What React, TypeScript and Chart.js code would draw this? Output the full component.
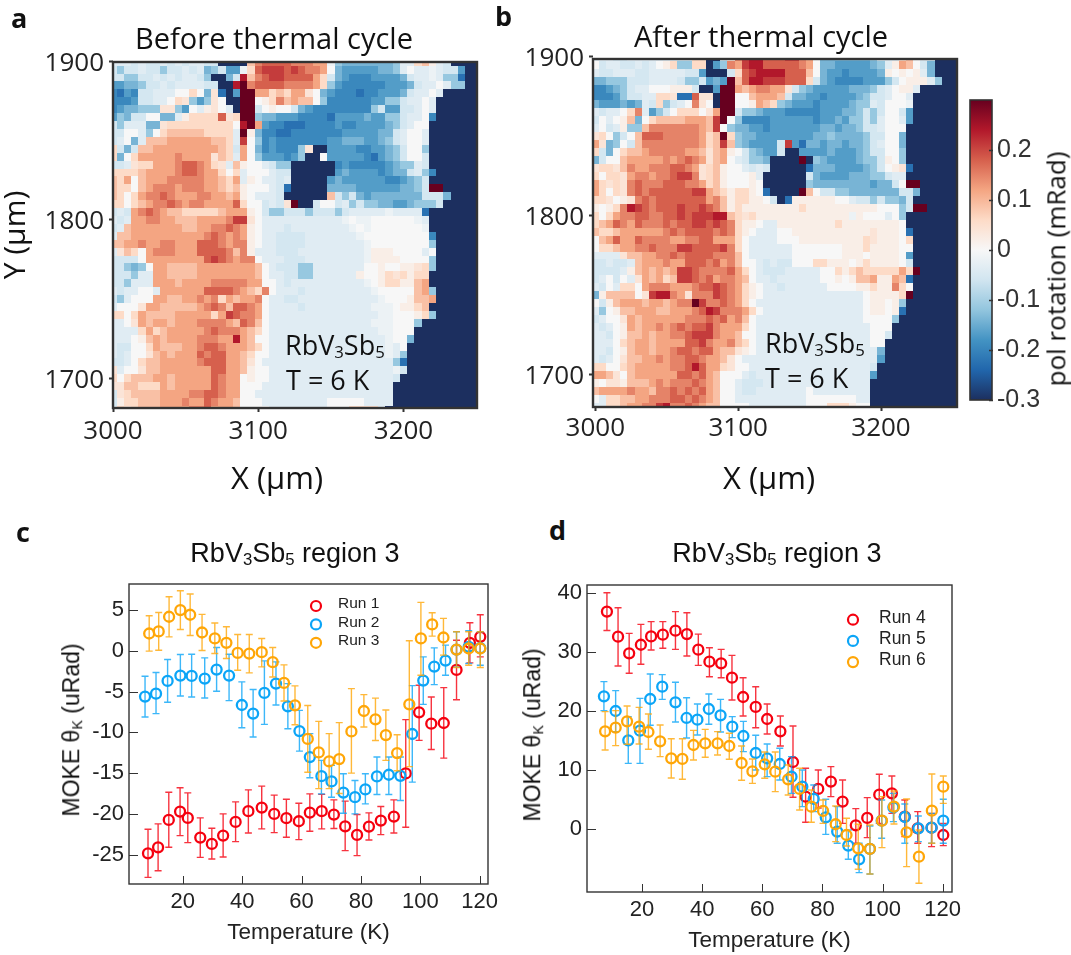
import React, { useEffect, useRef } from "react";
import { Chart, registerables } from "chart.js";

Chart.register(...registerables);

const levelChars = "NABCDEFGHWghijklmnoM";
const levelValues = [-0.3, -0.225, -0.195, -0.168, -0.14, -0.115, -0.055, -0.036, -0.018, 0, 0.02, 0.04, 0.06, 0.09, 0.12, 0.15, 0.18, 0.21, 0.24, 0.3];
const colorStops = [-0.3, -0.24, -0.18, -0.12, -0.06, 0, 0.06, 0.12, 0.18, 0.24, 0.3];
const colorHex = ["#1c2f5f", "#2166ac", "#4393c3", "#92c5de", "#d1e5f0", "#f7f7f7", "#fddbc7", "#f4a582", "#d6604d", "#b2182b", "#67001f"];

const beforeRows = [
  "GGGFGFFGFG FGGFFNNNNj lmmmmlllkk HEDDDDDDDE GGijgGFNNN N",
  "FEFFGFFEFF GFGDEFCCHi mnnnmnmllk WDCCCCCDDE GWGGHGFFCN N",
  "FFEEFFGFGF GGFENNDFoj lmnnmmmmki FDCBBBCCCC DFGGHGEEAN N",
  "CCDDEFFGFG GGGFFNNoMl mmmmllllki ECBBBBBBCC CDFGGWGEEN N",
  "BACBFFGGGW WiWDhANCMM kkijikkhWD CBBBABBCCC DFGGWGNNNN N",
  "BBBCFFGGWi hECEhWNNMM WgiljkjjWE BBBBBBCCEE FGGWGNNNNN N",
  "BCDDEEEhhE CWGghWGNMM FWgWWFDCBB BBBBBBEFCC FFGWGNNNNN N",
  "CEDFFWWDDG giiiimhiMM EDDCCCBBBB ACCCCDCCEE FGGWBNNNNN N",
  "FEGGGDDhii iiiiiiiWoM kCBBAAABBB BCBBCCCCDE FGWWNNNNNN N",
  "FFWWGEWijj jjjiiiiGMg DBBAABBBBB BBCCCCCDDF GWWGNNNNNN N",
  "FGWDGjjjkk kkkkjjiGnW EBCBBBBBBB CCDDDCCDEF GWWGNNNNNN N",
  "iFDFjjkkkk kkkkkjiFkW DBCBBBEhNN CCCCBBCCDE FWWENNNNNN N",
  "iDWikkkkkl kkkkhjiGkW ECCCBCENNW CCCCCBACDE FWWFNNNNNN N",
  "FFGhiikkkl mmlkihGjgW WGFEENNNNN NBCBBBBBCD EEGFNNNNNN N",
  "iiiijkkkkl mmlkkiWiGW WWGFFNNNNN NCDCCCCBCD DFGEBNNNNN N",
  "jikWjkkkll lllkkjikGg WGGFGNNNNN CDCCCCCCBB CDEFNNNNNN N",
  "jiiWjklllk lllkkjijgW WWGFANNNNN DDDDCCCCCC DDEFMMNNNN N",
  "jiWikllmlk kkllkkjkgW GGGFNNNNNN jFEFDCDDDD DDDFFFDNNN N",
  "iiWijkllml kllkkkkmiW WFGFhMNNFW WFGEFEEDDC CDEEEFNNNN N",
  "FGFklmlkjj iiiiijkkkg WFEEFFFEFF FEFGGGGGHG GGGANNNNNN N",
  "GFGkkllkkj jjkkkklnnh WGGGGGGGGG GGHWHHWWWW WWHGNNNNNN N",
  "FGjkkkkkkk jjkkllmlkg WGGGFGGGGG GGGHWHWWWW WWWHNNNNNN N",
  "Gjjkkkkkkk kkklmlklkg WGGFFFFGGG GGGGHWWWWW WWWWBNNNNN N",
  "jjkklkkllk kkmmmlkllg WGGFFFFGGG GGGGGHWWWW WWWWENNNNN N",
  "GhjiWklllk kkmmmmljlg GGGFFFGGGG GGGGGHgggW WWWGWNNNNN N",
  "FFFFWkkkkk kkkmnmlkll WGGGFFFGGG GGGGGHgggg WWWWENNNNN N",
  "FFEDEWkkjj jjkkkkkkkk jWGFFFEEGG GGGGGWWgWW gghiENNNNN N",
  "FFFEGGkkjj jjkkkkkkkk jWGGFFEEGG GGGGgWWgih igiiNNNNNN N",
  "FFEGGGkkkj kkkklllllk kWWGFGGGGG GGGGGHWgii ggjkNNNNNN N",
  "GFGGWWGkkk kkkmmmmlkj ilWGGGFGGG GGGGGGHWWW WWjkENNNNN N",
  "FEGWWWkkjj kklklikjkk lWGGFFGGGG GGGGGGGHWW WgjjkNNNNN N",
  "GWWWhkkjjj jjklmljmml kWGGGGFGGG GGGGGGHHHW ggijNNNNNN N",
  "iiWikjjjjk kkkkiknmll kWGGGGGGGG GGGGGGGHHW WWgiENNNNN N",
  "GGWhkjkkjk kkllllkjml jWGGGGGGGG GGGGGGHHHW WWENNNNNNN N",
  "GGGGikijkk kkklmlllkj iWGGGGGGGG GGGGGGGHHW WWNNNNNNNN N",
  "GGGWgjkjkk kklllkkokj WWGGGGGGGG GGGGGGGGHW WDNNNNNNNN N",
  "GFFWWikjjj kklmmlkkkj iWGGGGGGGG GGGGGGGGHG WNNNNNNNNN N",
  "GFGWWhjkjk kkmlmmkkji WWGGGGGGGG GGGGGGGGHG ENNNNNNNNN N",
  "FFGWijjkkk kklmmmkkjh WGGGGGGGGG GGGGGGGGGE ANNNNNNNNN N",
  "hGWWhjjkkk kkkkmmkkjg WWGGGGGGGG GGGGGGGGGH FNNNNNNNNN N",
  "iWijjjkkjk kkkkmlkkWg WWGGGGGGGG GGGGGGGGGF NNNNNNNNNN N",
  "hhjjiiikjk kkkkmlkkWW WGGGGGGGGG GGGGGGGGGN NNNNNNNNNN N",
  "Fhijjjjkkk kllmmlkkWW GGGGGGGGGG GGGGGGGGGN NNNNNNNNNN N",
  "Fgiijjjkkk lkkmlkkjWW WGGGGGGGGG WWWWWGGGGN NNNNNNNNNN N",
  "Gihijjjkkk kllmkkkjWW WWGGGGGGGG WWWiiiiGNN NNNNNNNNNN N",
];

const afterRows = [
  "GGGFFGGGGG GGFFiiNNFh lnoommmnnl kWDDDDDDDE FGGijWGFNN N",
  "WFGGFFGFGW giEEiiNCEl knoommmmml kWDDCCCCCD EGgkjWFDNN N",
  "GFFGGGFFGG GGGFFCNNNF imnoooommm jWDCCBCCCC DgWgWgGDNN N",
  "DDEEEFFFGG GGFEEFCDCM jmoonnnmmm iFDCBBBBCC CEFWgggGEN N",
  "BBCDEFGGWW WgggFNNCMM kjkllkkhFE DCCCCCDDDE FGWggGNNNN N",
  "BBBCEFFGGi ihAAmhhNMM WWjkkkjFDD CCBCCCCDEF FGWWGNNNNN N",
  "DCCCDCDGFi EFGWlhWNMM WWgkjiEDCC CBCCCCDEEG FWWWHNNNNN N",
  "GFGGWilGCE FWiiiWhkMM FEEDCCCBBB BBCCCDDEFE FWWFCNNNNN N",
  "FWGWgjDWij jjjkkkjnMW EBBBBCCCCC CBCCDCEEFE GWWGCNNNNN N",
  "GWFGgEEjll lllllkjnWE DDCCBCCCCC CCDDCDDEFF GWWWNNNNNN N",
  "hiWEFWjmmm lllllkijMi EDDCCCCCCC CDDEDDDDEF FWWDNNNNNN N",
  "khDEWFjlll lllllkijnj EDCCCCFnCA DDCDDCDDEF GWWDNNNNNN N",
  "iFDWijjkll lllkkjhjkg WFEDCCFNNC CCCDCCCDEF FWWENNNNNN N",
  "DFWWjkkkkk lklmlkhjkW GFEEDNNNNM NEDCCCCDEE FgWENNNNNN N",
  "hiihjlkkll lmmlkhijgW WGFGFNNNNN ADDDCCCCDE FWghANNNNN N",
  "iWiihkllkl lmnnlhijgW WWgGNNNNNN FDCCCCDDDE EFGGNNNNNN N",
  "kihihlmlll mmmllkijgW WWgWNNNNNN EDDDDDDDDC DDFWMMNNNN N",
  "kiWihlmlmm mmmmnnkjig iigWANNNNM jWFFEEDDDD DDDFFDNNNN N",
  "iihWghlmlm mmmmmmkljg iiggWFNAgg ggggWWGFFE FEEDFNNNNN N",
  "gWgilonmlm mmnmmnmljg iggggggggi gggggggggg WWWEFMMNNN N",
  "iWikllmmll mmnmnnnooj ihiggggggg ggggggHgWW WGWENNNNNN N",
  "ijkmlkmlll mlmmnnmnml iggWGGgggg ggggiggggg gggWNNNNNN N",
  "jiijkkkkkk lmlmmmmlml igWGGGWWgg gggggggggh gggWANNNNN N",
  "Wjkmkkmlll lkkllmmkkk iWGGGGWWWg ggggggggih gggWiNNNNN N",
  "Wiijkkllml llnnmmmmnl iWGGGGGGWW WWWWWgggig gggWWNNNNN N",
  "GGGGhjjkkl lmlmmmmlll jWGGGGGGWW WWWWWgggWg gggWCNNNNN N",
  "FFGFFGjkkk lkkmmmlmkl jWWGFGFFWW WiigggWgig gggWFNNNNN N",
  "FFFFGgjkjk jknnmllllm kiWGFFFGGG GGWWigijii iiikiMNNNN N",
  "FGWFWGhkjk ijnnmlmkll kjWGGFGGGG GGWWgWgjjk ggkjANNNNN N",
  "GFWGiiWkll lkkklmmnml kigWGGFGGG GGGWWWWggi ggliWNNNNN N",
  "DgjjjjWhno olkhlllnml kigWGGGGGG GGGGGGGGWg gggiMNNNNN N",
  "WFgjkkkjkk jkllMnllml kiWGGGGGGG GGGGGGGGWg gWgENNNNNN N",
  "GEWgjjkkkj jkkklmonll lkiWGGGGGG GGGGGGGGWg gWgANNNNNN N",
  "FGWWhkjkkk kkklllmlmk ljWGGGGGGG GGGGGGGGWW WWENNNNNNN N",
  "GFGWgkjkkl klmlmmnlkk kiWGGGGGGG GGGGGGGGGW WWNNNNNNNN N",
  "GGFWgjjkjk kllmnnnlkk jWWGGGGGGG GGGGGGGGGW WFNNNNNNNN N",
  "GGGWijkkjk kkkmmnlkkl jiWGGGGGGG GGGGGGGGGW WNNNNNNNNN N",
  "GGFWgjkkjk klmmlmmkjj hgWGGGGGGG GGGGGGGGGG DNNNNNNNNN N",
  "GFGWhjjkkl kllmmlkkjh WGGGGGGGGG GGGGGGGGGG CNNNNNNNNN N",
  "iiWWijkkkk kllmomkkih WWGGGGGGGG GGGGGGGGGF NNNNNNNNNN N",
  "kkjhWjkkkk kkmmlmkjWW WGFGGGGGGG GGGGGGGGGC NNNNNNNNNN N",
  "gWhhgjjjkl klllmlkjWW GFFFGGGGGG GGGGGGGGGN NNNNNNNNNN N",
  "jkkkklkkjl lmlmlmkjWW GFFGGGGGGG WGGGGGGGGN NNNNNNNNNN N",
  "WGiijjkkll lmmlmlkjWW GGGGGGGGGG WWWWWWWGGN NNNNNNNNNN N",
  "GGiijkklln ollmlkjjWW WWGGGGGGGG WWWiiigWWN NNNNNNNNNN N",
];

const mapXTicks = [3000, 3100, 3200];
const mapYTicks = [1700, 1800, 1900];
const barTicks = [-0.3, -0.2, -0.1, 0, 0.1, 0.2];

const tempRun1 = [8.3, 11.7, 15.3, 19.1, 21.7, 25.9, 29.8, 33.6, 37.8, 42.1, 46.6, 50.8, 54.9, 59.1, 62.8, 66.8, 70.9, 74.7, 78.7, 82.7, 86.7, 91.1, 95.1, 99.6, 103.7, 107.9, 112.2, 116.7, 120.2];
const valRun1 = [-24.84, -24.1, -20.74, -19.71, -20.49, -22.91, -23.69, -22.66, -20.98, -19.67, -19.22, -20, -20.53, -20.9, -19.84, -19.67, -20.08, -21.52, -22.58, -21.56, -20.82, -20.33, -15.04, -7.54, -8.93, -8.85, -2.34, 0.98, 1.72];
const hiRun1 = [-21.89, -21.23, -17.34, -16.8, -17.42, -20.49, -21.76, -20, -18.52, -17.05, -16.6, -17.7, -18.2, -18.7, -17.54, -17.6, -18.28, -18.44, -20.08, -19.88, -19.1, -18.28, -8.44, -4.22, -5.66, -4.51, 1.3, 3.44, 4.43];
const loRun1 = [-27.79, -26.97, -24.1, -22.66, -23.52, -25.33, -25.53, -25.29, -23.4, -22.34, -21.84, -22.3, -22.87, -23.16, -22.13, -21.84, -21.8, -24.5, -25.12, -23.2, -22.54, -22.34, -21.64, -10.98, -12.1, -13.16, -6, -1.48, -0.74];

const tempRun2 = [7.3, 11, 14.9, 19.2, 23, 27.4, 31.4, 35.6, 39.9, 43.7, 47.5, 51.4, 55.4, 59.3, 62.8, 66.7, 70.1, 74.1, 78, 81.5, 85.4, 89.4, 93.3, 97.3, 101, 104.7, 108.5, 112.2, 116.3, 120.2];
const valRun2 = [-5.61, -5.25, -3.69, -3.03, -3.07, -3.4, -2.3, -3.03, -6.64, -7.7, -5.16, -4.02, -6.8, -9.84, -13.03, -15.37, -16.02, -17.38, -17.95, -17, -15.41, -15.2, -15.33, -10.2, -3.65, -1.93, -1.19, 0.16, 0.49, 0.33];
const hiRun2 = [-3.11, -2.66, -1.07, -0.45, -0.41, -0.86, 0.41, -0.41, -3.81, -4.75, -1.23, -1.35, -4.02, -7.3, -10.16, -13.44, -14.05, -15.08, -15.9, -15.08, -13.03, -13.03, -13.03, -4.26, -0.74, 0.37, 0.7, 2.34, 2.46, 2.34];
const loRun2 = [-8.11, -7.7, -6.31, -5.53, -5.66, -5.78, -4.96, -6.1, -9.43, -10.57, -9.02, -6.64, -9.55, -12.3, -15.57, -17.54, -17.95, -19.92, -20, -18.77, -17.62, -17.62, -18.36, -16.1, -6.56, -4.14, -3, -2, -1.56, -1.76];

const tempRun3 = [8.7, 11.9, 15.4, 19.2, 22.5, 26.5, 30.8, 34.7, 38.5, 42.4, 46.6, 50.3, 54.1, 57.8, 62.1, 65.8, 69.3, 72.7, 76.8, 81, 84.9, 88.4, 92.2, 96.3, 100.2, 104, 107.8, 112.2, 116.3, 120.2];
const valRun3 = [2.13, 2.38, 4.18, 5, 4.43, 2.25, 1.52, 0.98, -0.25, -0.33, -0.16, -1.39, -3.93, -6.68, -10.8, -12.46, -13.57, -13.28, -9.88, -7.38, -8.4, -10.33, -12.54, -6.56, 1.52, 3.24, 1.64, 0.16, 0.29, 0.29];
const hiRun3 = [4.3, 4.71, 6.64, 7.38, 6.97, 4.47, 3.41, 2.95, 2, 2, 1.52, 0.41, -1.72, -4.3, -6.7, -8.65, -10.16, -8.8, -4.63, -5.37, -5.8, -7.25, -10.3, 1.23, 5.94, 4.67, 3.98, 2.34, 2.34, 2.34];
const loRun3 = [-0.04, 0.08, 1.72, 2.62, 1.89, 0.04, -0.33, -0.94, -2.38, -2.7, -1.97, -3.2, -6.15, -9.06, -14.9, -16.9, -16.9, -17.5, -15, -9.34, -11, -13.44, -14.7, -14.2, -3, 1.8, -0.53, -2.05, -1.76, -2.05];

const tempRun4 = [8.3, 12, 15.7, 19.6, 23, 26.9, 31.1, 34.9, 38.7, 42.4, 46.3, 49.9, 53.6, 57.8, 61.6, 66, 70.2, 74.4, 78.6, 82.8, 86.7, 91.1, 94.9, 98.9, 103.1, 107.4, 111.7, 116.3, 120.2];
const valRun4 = [36.8, 32.56, 29.75, 31.2, 32.6, 32.9, 33.58, 33, 30.37, 28.34, 28.06, 25.63, 22.37, 20.68, 18.65, 16.56, 11.38, 5.52, 6.82, 8.06, 4.68, 0.68, 1.92, 5.86, 6.08, 2.14, 0.17, 0.28, -0.96];
const hiRun4 = [40, 37.46, 33.13, 34.65, 35.1, 35.1, 36.8, 36.62, 33, 30.7, 30.42, 29.4, 25.63, 24.1, 21.18, 19.15, 17.46, 10.31, 10.03, 10.59, 8.34, 3.49, 5.35, 9.3, 9.01, 4.96, 2.99, 2.7, 1];
const loRun4 = [33.6, 27.6, 26.37, 27.9, 30.3, 30.6, 30.42, 29.3, 27.72, 25.8, 25.63, 21.86, 19.15, 17.18, 16.11, 14.08, 5.41, 1.18, 3.6, 5.52, 1, -2.37, -1.41, 1, 2.7, -1.24, -2.37, -2.93, -2.76];

const tempRun5 = [7.3, 11.2, 15.4, 19.3, 22.7, 26.7, 31.1, 34.8, 38.4, 42.2, 46.1, 50, 53.7, 57.8, 61.6, 65.8, 69.7, 73.3, 77.1, 81.1, 84.9, 88.6, 92.2, 95.8, 99.7, 103.6, 107.4, 111.9, 116.3, 120.2];
const valRun5 = [22.48, 20, 15.04, 16.68, 22.03, 24.11, 21.46, 18.82, 18.54, 20.34, 19.27, 17.35, 15.77, 12.9, 12, 11.04, 8.9, 7.21, 5.13, 2.03, -0.39, -2.76, -5.07, -3.32, 1.46, 3.72, 2.08, 0.17, 0.28, 1.46];
const hiRun5 = [24.96, 23.44, 19.04, 22.14, 26.25, 26.14, 24.85, 22.25, 21.18, 22.87, 21.97, 19.04, 18.25, 15.89, 14.42, 13.69, 12.28, 10.03, 7.49, 5.07, 3.83, -0.11, -2.37, 0.56, 4.96, 6.08, 4.28, 2.25, 2.7, 5.07];
const loRun5 = [20.06, 16.5, 11.15, 11.15, 17.58, 21.97, 18.14, 15.44, 15.94, 17.75, 16.45, 15.49, 13.13, 10.03, 8.9, 8.34, 6.08, 3.83, 2.99, -0.85, -2.37, -5.07, -7.32, -7.55, -1.52, 1.3, -2.37, -2.08, -2.37, -2.37];

const tempRun6 = [7.7, 11.2, 15, 19, 22.1, 26, 29.7, 33.4, 37.1, 41, 45.1, 49, 53.1, 56.7, 60.8, 64.3, 68.6, 72.4, 76.3, 80.2, 84.4, 88, 91.9, 95.8, 99.8, 103.8, 108, 112.1, 116.4, 120.2];
const valRun6 = [16.56, 17.18, 18.25, 17.35, 16.45, 14.87, 12, 11.89, 14.25, 14.54, 14.54, 14.08, 11.21, 9.8, 10.99, 9.75, 8.45, 6.82, 3.83, 3.1, 0.85, -0.96, -3.21, -3.32, 1.46, 3.83, -0.51, -4.62, 3.15, 7.21];
const hiRun6 = [19.89, 20.06, 20.85, 20.62, 19.49, 17.63, 15.32, 15.32, 16.73, 16.9, 16.51, 16.23, 14.08, 11.89, 13.07, 13.07, 10.87, 10.31, 6.65, 4.96, 3.94, 1.86, 0.85, 0.73, 5.52, 6.48, 5.13, -0.11, 9.35, 9.01];
const loRun6 = [13.41, 14.14, 14.37, 14.42, 13.52, 12.28, 8.68, 8.45, 11.72, 12.17, 12.56, 11.83, 8.28, 7.77, 8.62, 6.37, 5.8, 3.27, 1.18, 1, -2.08, -2.82, -6.76, -7.55, -3.1, 0.9, -6.31, -9.13, -2.37, 4.39];

const RED = "#f5000f";
const BLUE = "#0ba5f7";
const ORANGE = "#ffa607";
const MYRIAD = '"Open Sans", sans-serif';
const ARIAL = '"Liberation Sans", Arial, sans-serif';

function hexToRgb(h: string) {
  return [parseInt(h.slice(1, 3), 16), parseInt(h.slice(3, 5), 16), parseInt(h.slice(5, 7), 16)];
}
function valueColor(v: number) {
  const c = Math.max(colorStops[0], Math.min(colorStops[colorStops.length - 1], v));
  let i = 0;
  while (i < colorStops.length - 2 && c > colorStops[i + 1]) i++;
  const t = (c - colorStops[i]) / (colorStops[i + 1] - colorStops[i]);
  const a = hexToRgb(colorHex[i]);
  const b = hexToRgb(colorHex[i + 1]);
  return `rgb(${a.map((x, k) => Math.round(x + (b[k] - x) * t)).join(",")})`;
}
function rowsToCells(rows: string[]) {
  const out: { x: number; y: number; v: number }[] = [];
  rows.forEach((raw, r) => {
    const row = raw.replace(/\s/g, "").padEnd(52, "N");
    for (let c = 0; c < row.length; c++) {
      out.push({ x: 3000 + 5 * c, y: 1900 - 5 * r, v: levelValues[levelChars.indexOf(row[c])] });
    }
  });
  return out;
}

const heatPlugin = {
  id: "heat",
  beforeDatasetsDraw(chart: any) {
    const { ctx, chartArea: a, scales } = chart;
    ctx.save();
    ctx.beginPath();
    ctx.rect(a.left, a.top, a.right - a.left, a.bottom - a.top);
    ctx.clip();
    for (const p of chart.data.datasets[0].data) {
      const x0 = Math.round(scales.x.getPixelForValue(p.x - 2.5));
      const x1 = Math.round(scales.x.getPixelForValue(p.x + 2.5));
      const y0 = Math.round(scales.y.getPixelForValue(p.y + 2.5));
      const y1 = Math.round(scales.y.getPixelForValue(p.y - 2.5));
      ctx.fillStyle = valueColor(p.v);
      ctx.fillRect(x0, y0, x1 - x0, y1 - y0);
    }
    ctx.restore();
  },
};
const framePlugin = (color: string, width: number) => ({
  id: "frame",
  afterDraw(chart: any) {
    const { ctx, chartArea: a } = chart;
    ctx.save();
    ctx.strokeStyle = color;
    ctx.lineWidth = width;
    ctx.strokeRect(a.left, a.top, a.right - a.left, a.bottom - a.top);
    ctx.restore();
  },
});
const innerTicksPlugin = {
  id: "innerTicks",
  afterDraw(chart: any) {
    const { ctx, chartArea: a, scales } = chart;
    ctx.save();
    ctx.strokeStyle = "#333";
    ctx.lineWidth = 1;
    ctx.beginPath();
    for (const t of scales.x.ticks) {
      const x = Math.round(scales.x.getPixelForValue(t.value)) + 0.5;
      ctx.moveTo(x, a.bottom);
      ctx.lineTo(x, a.bottom - 8);
    }
    for (const t of scales.y.ticks) {
      const y = Math.round(scales.y.getPixelForValue(t.value)) + 0.5;
      ctx.moveTo(a.left, y);
      ctx.lineTo(a.left + 9, y);
    }
    ctx.stroke();
    ctx.restore();
  },
};
const errorPlugin = {
  id: "errors",
  beforeDatasetDraw(chart: any, args: any) {
    const ds = chart.data.datasets[args.index];
    const { ctx, scales } = chart;
    ctx.save();
    ctx.strokeStyle = ds.borderColor;
    ctx.globalAlpha = 0.8;
    ctx.lineWidth = 1.4;
    ctx.beginPath();
    ds.data.forEach((p: any, i: number) => {
      const x = scales.x.getPixelForValue(p.x);
      const hi = scales.y.getPixelForValue(ds.hi[i]);
      const lo = scales.y.getPixelForValue(ds.lo[i]);
      ctx.moveTo(x, hi);
      ctx.lineTo(x, lo);
      ctx.moveTo(x - 3.5, hi);
      ctx.lineTo(x + 3.5, hi);
      ctx.moveTo(x - 3.5, lo);
      ctx.lineTo(x + 3.5, lo);
    });
    ctx.stroke();
    ctx.restore();
  },
};
const legendPlugin = (x: number, textX: number, y: number, dy: number, size: number) => ({
  id: "runLegend",
  afterDatasetsDraw(chart: any) {
    const { ctx } = chart;
    ctx.save();
    chart.data.datasets.forEach((ds: any, i: number) => {
      const cy = y + i * dy;
      ctx.beginPath();
      ctx.arc(x, cy, 5, 0, Math.PI * 2);
      ctx.strokeStyle = ds.borderColor;
      ctx.lineWidth = 2.2;
      ctx.stroke();
      ctx.fillStyle = "#222";
      ctx.font = `${size}px ${ARIAL}`;
      ctx.textBaseline = "middle";
      ctx.textAlign = "left";
      ctx.fillText(ds.label, textX, cy - 2);
    });
    ctx.restore();
  },
});
const colorbarPlugin = {
  id: "colorbar",
  afterDraw(chart: any) {
    const { ctx, chartArea: a, scales } = chart;
    const y = scales.y;
    const g = ctx.createLinearGradient(0, y.getPixelForValue(-0.3), 0, y.getPixelForValue(0.3));
    colorStops.forEach((v, i) => g.addColorStop((v + 0.3) / 0.6, colorHex[i]));
    ctx.save();
    ctx.fillStyle = g;
    ctx.fillRect(a.left, a.top, a.right - a.left, a.bottom - a.top);
    ctx.strokeStyle = "#333";
    ctx.lineWidth = 1.6;
    ctx.strokeRect(a.left, a.top, a.right - a.left, a.bottom - a.top);
    ctx.beginPath();
    for (const t of y.ticks) {
      const py = Math.round(y.getPixelForValue(t.value)) + 0.5;
      ctx.moveTo(a.right - 3, py);
      ctx.lineTo(a.right + 1, py);
    }
    ctx.stroke();
    ctx.restore();
  },
};

const setTicks = (vals: number[]) => (s: any) => {
  s.ticks = vals.map((value) => ({ value }));
};

function mapConfig(opts: any) {
  const tickGrid = { display: true, drawOnChartArea: false, drawTicks: true, tickLength: 4, tickColor: "#333", tickWidth: 2 };
  return {
    type: "scatter",
    data: {
      datasets: [{ label: opts.label, data: rowsToCells(opts.rows), pointRadius: 0, pointHoverRadius: 0, borderWidth: 0 }],
    },
    plugins: [heatPlugin, framePlugin("#333", 2.4)],
    options: {
      animation: false,
      responsive: false,
      devicePixelRatio: 1,
      events: [],
      parsing: false,
      normalized: true,
      layout: { padding: { left: 0, right: opts.padRight, top: opts.padTop, bottom: 0 } },
      plugins: { legend: { display: false }, tooltip: { enabled: false } },
      scales: {
        x: {
          type: "linear",
          min: opts.xMin,
          max: opts.xMax,
          afterBuildTicks: setTicks(mapXTicks),
          afterFit: (s: any) => {
            s.height = opts.xHeight;
          },
          border: { display: false },
          grid: tickGrid,
          ticks: { autoSkip: false, maxRotation: 0, padding: opts.xPad, color: "#222", font: { family: MYRIAD, size: 26 }, callback: (v: any) => String(v) },
        },
        y: {
          type: "linear",
          min: opts.yMin,
          max: opts.yMax,
          afterBuildTicks: setTicks(mapYTicks),
          afterFit: (s: any) => {
            s.width = opts.yWidth;
          },
          border: { display: false },
          grid: tickGrid,
          title: opts.yTitle
            ? { display: true, text: opts.yTitle, color: "#111", font: { family: MYRIAD, size: 30, lineHeight: 1 }, padding: { top: 1, bottom: 0 } }
            : { display: false },
          ticks: { autoSkip: false, padding: 5, labelOffset: 2, color: "#222", font: { family: MYRIAD, size: 26 }, callback: (v: any) => String(v) },
        },
      },
    },
  };
}

function runDataset(label: string, temp: number[], val: number[], hi: number[], lo: number[], color: string, order: number) {
  return {
    label,
    data: temp.map((x, i) => ({ x, y: val[i] })),
    hi,
    lo,
    order,
    borderColor: color,
    backgroundColor: "rgba(0,0,0,0)",
    pointRadius: 5,
    pointBorderWidth: 2.3,
    pointHoverRadius: 5,
    showLine: false,
  };
}

function scatterConfig(opts: any) {
  return {
    type: "scatter",
    data: { datasets: opts.datasets },
    plugins: [errorPlugin, framePlugin("#333", 1.4), innerTicksPlugin, opts.legend],
    options: {
      animation: false,
      responsive: false,
      devicePixelRatio: 1,
      events: [],
      layout: { padding: { left: 0, right: opts.padRight, top: opts.padTop, bottom: 0 } },
      plugins: { legend: { display: false }, tooltip: { enabled: false } },
      scales: {
        x: {
          type: "linear",
          min: opts.xMin,
          max: opts.xMax,
          afterBuildTicks: setTicks([20, 40, 60, 80, 100, 120]),
          afterFit: (s: any) => {
            s.height = opts.xHeight;
          },
          border: { display: false },
          grid: { display: false, drawTicks: false },
          title: { display: true, text: "Temperature (K)", color: "#222", font: { family: ARIAL, size: 22.5, lineHeight: 1 }, padding: { top: 0, bottom: opts.xTitleBottom } },
          ticks: { autoSkip: false, maxRotation: 0, padding: 5, color: "#222", font: { family: ARIAL, size: 22 }, callback: (v: any) => String(v) },
        },
        y: {
          type: "linear",
          min: opts.yMin,
          max: opts.yMax,
          afterBuildTicks: setTicks(opts.yTicks),
          afterFit: (s: any) => {
            s.width = opts.yWidth;
          },
          border: { display: false },
          grid: { display: false, drawTicks: false },
          ticks: { autoSkip: false, padding: 5, color: "#222", font: { family: ARIAL, size: 22 }, callback: (v: any) => String(v) },
        },
      },
    },
  };
}

function barConfig() {
  return {
    type: "scatter",
    data: { datasets: [{ label: "pol rotation (mRad)", data: [], pointRadius: 0 }] },
    plugins: [colorbarPlugin],
    options: {
      animation: false,
      responsive: false,
      devicePixelRatio: 1,
      events: [],
      layout: { padding: { left: 20, right: 0, top: 20, bottom: 17 } },
      plugins: { legend: { display: false }, tooltip: { enabled: false } },
      scales: {
        x: { type: "linear", display: false, min: 0, max: 1 },
        y: {
          type: "linear",
          position: "right",
          min: -0.3,
          max: 0.3,
          afterBuildTicks: setTicks(barTicks),
          afterFit: (s: any) => {
            s.width = 79;
          },
          border: { display: false },
          grid: { display: false, drawTicks: false },
          ticks: { autoSkip: false, padding: 5, color: "#333", font: { family: ARIAL, size: 25 }, callback: (v: any) => String(Math.round(v * 10) / 10) },
        },
      },
    },
  };
}

function Plot({ left, top, width, height, make }: any) {
  const ref = useRef<HTMLCanvasElement>(null);
  useEffect(() => {
    const chart = new Chart(ref.current as any, make());
    return () => chart.destroy();
  }, []);
  return <canvas ref={ref} width={width} height={height} style={{ position: "absolute", left, top, width, height, display: "block" }} />;
}

function Label({ x, y, size, family, weight, rotate, center, children }: any) {
  const tx = [center ? "translate(-50%,-50%)" : "translateY(-50%)", rotate ? `rotate(${rotate}deg)` : ""].join(" ");
  return (
    <div style={{ position: "absolute", left: x, top: y, fontSize: size, fontFamily: family, fontWeight: weight || "normal", whiteSpace: "nowrap", transform: tx, color: "#111", lineHeight: 1.2 }}>
      {children}
    </div>
  );
}
const Sub = ({ children }: any) => <span style={{ fontSize: "0.62em", verticalAlign: "-0.18em", lineHeight: 0 }}>{children}</span>;

export default function App() {
  return (
    <div style={{ position: "absolute", left: 0, top: 0, width: 1071, height: 955, overflow: "hidden", background: "#fff" }}>
      <Plot left={0} top={0} width={490} height={500}
        make={() => mapConfig({ label: "Before thermal cycle", rows: beforeRows, padRight: 13, padTop: 62, xMin: 3000, xMax: 3250.6, yMin: 1681.2, yMax: 1899.8, xHeight: 92, yWidth: 113, xPad: 4, yTitle: "Y (µm)" })} />
      <Plot left={480} top={0} width={490} height={500}
        make={() => mapConfig({ label: "After thermal cycle", rows: afterRows, padRight: 13, padTop: 59, xMin: 2998.4, xMax: 3253.2, yMin: 1679.7, yMax: 1898.6, xHeight: 93, yWidth: 113, xPad: 2 })} />
      <Plot left={950} top={80} width={121} height={340} make={barConfig} />
      <Plot left={0} top={560} width={530} height={395}
        make={() => scatterConfig({
          datasets: [
            runDataset("Run 1", tempRun1, valRun1, hiRun1, loRun1, RED, 3),
            runDataset("Run 2", tempRun2, valRun2, hiRun2, loRun2, BLUE, 2),
            runDataset("Run 3", tempRun3, valRun3, hiRun3, loRun3, ORANGE, 1),
          ],
          legend: legendPlugin(316, 338, 46, 18.4, 15.5),
          padRight: 42, padTop: 24, xMin: 1.9, xMax: 122.8, yMin: -28.6, yMax: 8.2, xHeight: 71, yWidth: 129, xTitleBottom: 11,
          yTicks: [-25, -20, -15, -10, -5, 0, 5],
        })} />
      <Plot left={500} top={560} width={500} height={395}
        make={() => scatterConfig({
          datasets: [
            runDataset("Run 4", tempRun4, valRun4, hiRun4, loRun4, RED, 3),
            runDataset("Run 5", tempRun5, valRun5, hiRun5, loRun5, BLUE, 2),
            runDataset("Run 6", tempRun6, valRun6, hiRun6, loRun6, ORANGE, 1),
          ],
          legend: legendPlugin(353, 379, 59.7, 21.2, 17.5),
          padRight: 48, padTop: 25, xMin: 1.67, xMax: 123.1, yMin: -10.6, yMax: 41.3, xHeight: 63, yWidth: 87, xTitleBottom: 3,
          yTicks: [0, 10, 20, 30, 40],
        })} />

      <Label x={11} y={18} size={27} family={MYRIAD} weight="bold">a</Label>
      <Label x={495} y={16} size={27} family={MYRIAD} weight="bold">b</Label>
      <Label x={16} y={532} size={27} family={MYRIAD} weight="bold">c</Label>
      <Label x={549} y={530} size={27} family={MYRIAD} weight="bold">d</Label>

      <Label x={274} y={38} size={29} family={MYRIAD} center>Before thermal cycle</Label>
      <Label x={761} y={36} size={29} family={MYRIAD} center>After thermal cycle</Label>

      <Label x={277} y={478} size={31} family={MYRIAD} center>X (µm)</Label>
      <Label x={769} y={478} size={31} family={MYRIAD} center>X (µm)</Label>
      <Label x={1056} y={269} size={26} family={MYRIAD} rotate={-90} center>pol rotation (mRad)</Label>

      <Label x={285} y={345} size={27} family={MYRIAD}>RbV<Sub>3</Sub>Sb<Sub>5</Sub></Label>
      <Label x={286} y={380} size={27} family={MYRIAD}>T = 6 K</Label>
      <Label x={765} y={343} size={27} family={MYRIAD}>RbV<Sub>3</Sub>Sb<Sub>5</Sub></Label>
      <Label x={765} y={378} size={27} family={MYRIAD}>T = 6 K</Label>

      <Label x={295} y={553} size={27} family={ARIAL} center>RbV<Sub>3</Sub>Sb<Sub>5</Sub> region 3</Label>
      <Label x={777} y={553} size={27} family={ARIAL} center>RbV<Sub>3</Sub>Sb<Sub>5</Sub> region 3</Label>
      <Label x={72} y={730} size={23} family={ARIAL} rotate={-90} center>MOKE θ<Sub>K</Sub> (uRad)</Label>
      <Label x={533} y={735} size={23} family={ARIAL} rotate={-90} center>MOKE θ<Sub>K</Sub> (uRad)</Label>
    </div>
  );
}
